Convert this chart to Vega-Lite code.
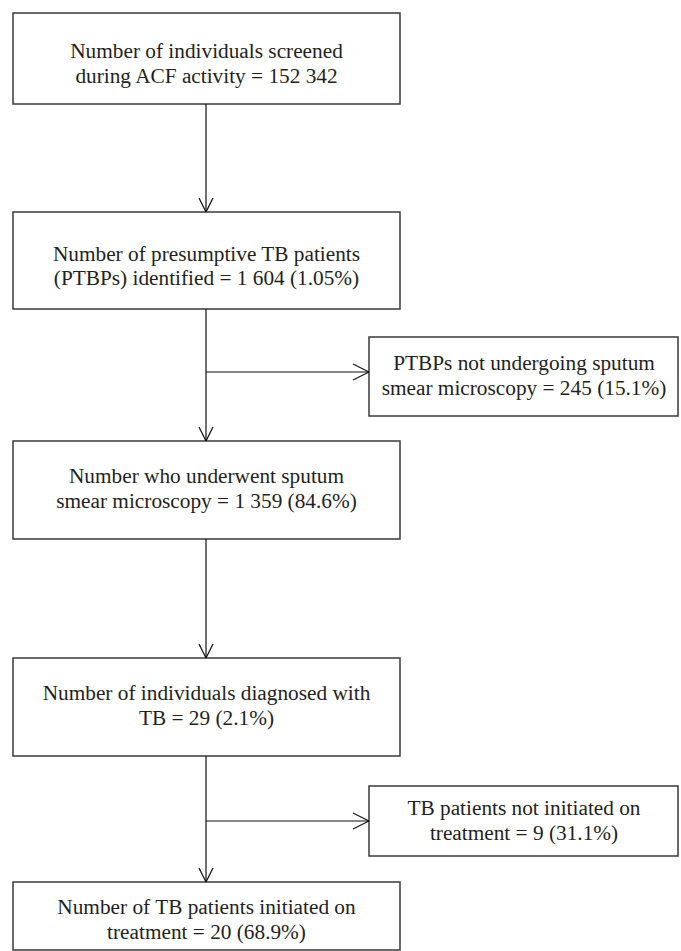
{
  "$schema": "https://vega.github.io/schema/vega-lite/v6.json",
  "width": 681,
  "height": 951,
  "autosize": {"type": "fit", "contains": "padding"},
  "padding": 0,
  "background": "white",
  "config": {"view": {"stroke": null}},
  "datasets": {
    "boxes": [
      {"id": "b1", "x1": 13, "x2": 400, "y1": 13, "y2": 104},
      {"id": "b2", "x1": 13, "x2": 400, "y1": 212, "y2": 309},
      {"id": "s1", "x1": 369, "x2": 678, "y1": 337, "y2": 416},
      {"id": "b3", "x1": 13, "x2": 400, "y1": 441, "y2": 539},
      {"id": "b4", "x1": 13, "x2": 400, "y1": 658, "y2": 756},
      {"id": "s2", "x1": 369, "x2": 678, "y1": 786, "y2": 856},
      {"id": "b5", "x1": 13, "x2": 400, "y1": 882, "y2": 950}
    ],
    "lines": [
      {"x1": 206, "x2": 206, "y1": 104, "y2": 212},
      {"x1": 206, "x2": 206, "y1": 309, "y2": 441},
      {"x1": 206, "x2": 369, "y1": 372, "y2": 372},
      {"x1": 206, "x2": 206, "y1": 539, "y2": 658},
      {"x1": 206, "x2": 206, "y1": 756, "y2": 882},
      {"x1": 206, "x2": 369, "y1": 821, "y2": 821},
      {"x1": 199, "x2": 206, "y1": 198, "y2": 212},
      {"x1": 213, "x2": 206, "y1": 198, "y2": 212},
      {"x1": 199, "x2": 206, "y1": 427, "y2": 441},
      {"x1": 213, "x2": 206, "y1": 427, "y2": 441},
      {"x1": 199, "x2": 206, "y1": 644, "y2": 658},
      {"x1": 213, "x2": 206, "y1": 644, "y2": 658},
      {"x1": 199, "x2": 206, "y1": 868, "y2": 882},
      {"x1": 213, "x2": 206, "y1": 868, "y2": 882},
      {"x1": 353, "x2": 369, "y1": 364, "y2": 372},
      {"x1": 353, "x2": 369, "y1": 380, "y2": 372},
      {"x1": 353, "x2": 369, "y1": 813, "y2": 821},
      {"x1": 353, "x2": 369, "y1": 829, "y2": 821}
    ],
    "texts": [
      {"x": 206.5, "y": 52, "t": "Number of individuals screened"},
      {"x": 206.5, "y": 77, "t": "during ACF activity = 152 342"},
      {"x": 206.5, "y": 255, "t": "Number of presumptive TB patients"},
      {"x": 206.5, "y": 279, "t": "(PTBPs) identified = 1 604 (1.05%)"},
      {"x": 524, "y": 364, "t": "PTBPs not undergoing sputum"},
      {"x": 524, "y": 389, "t": "smear microscopy = 245 (15.1%)"},
      {"x": 206.5, "y": 477, "t": "Number who underwent sputum"},
      {"x": 206.5, "y": 502, "t": "smear microscopy = 1 359 (84.6%)"},
      {"x": 206.5, "y": 694, "t": "Number of individuals diagnosed with"},
      {"x": 206.5, "y": 719, "t": "TB = 29 (2.1%)"},
      {"x": 524, "y": 809, "t": "TB patients not initiated on"},
      {"x": 524, "y": 834, "t": "treatment = 9 (31.1%)"},
      {"x": 206.5, "y": 908, "t": "Number of TB patients initiated on"},
      {"x": 206.5, "y": 933, "t": "treatment = 20 (68.9%)"}
    ]
  },
  "layer": [
    {
      "data": {"name": "boxes"},
      "mark": {"type": "rect", "fill": "white", "stroke": "#3a3a3a", "strokeWidth": 1.5, "clip": true},
      "encoding": {
        "x": {"field": "x1", "type": "quantitative", "scale": {"domain": [0, 681], "nice": false, "zero": false}, "axis": null},
        "x2": {"field": "x2"},
        "y": {"field": "y1", "type": "quantitative", "scale": {"domain": [0, 951], "nice": false, "zero": false, "reverse": true}, "axis": null},
        "y2": {"field": "y2"}
      }
    },
    {
      "data": {"name": "lines"},
      "mark": {"type": "rule", "stroke": "#111111", "strokeWidth": 1.2},
      "encoding": {
        "x": {"field": "x1", "type": "quantitative"},
        "x2": {"field": "x2"},
        "y": {"field": "y1", "type": "quantitative"},
        "y2": {"field": "y2"}
      }
    },
    {
      "data": {"name": "texts"},
      "mark": {"type": "text", "font": "Liberation Serif", "fontSize": 21.3, "color": "#231f20", "align": "center", "baseline": "middle"},
      "encoding": {
        "x": {"field": "x", "type": "quantitative"},
        "y": {"field": "y", "type": "quantitative"},
        "text": {"field": "t"}
      }
    }
  ]
}
